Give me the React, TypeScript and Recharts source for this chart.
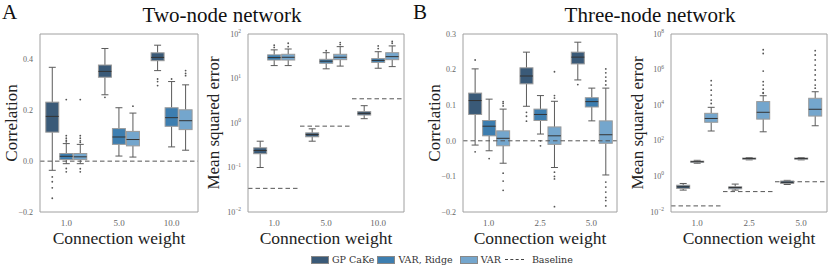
import React from 'react';
import { ComposedChart, Bar, XAxis, YAxis, ReferenceLine, ReferenceArea } from 'recharts';

const GP = '#3a5a78';
const RIDGE = '#3d7eb0';
const VARC = '#74a6cd';
const FRAME = '#a0a0a0';
const SERIF = '"Liberation Serif", "DejaVu Serif", serif';

const twoWeights = ['1.0', '5.0', '10.0'];
const threeWeights = ['1.0', '2.5', '5.0'];

// boxes are [whisker low, q1, median, q3, whisker high]
const corrTwoGp = [[-0.036, 0.114, 0.176, 0.232, 0.369], [0.261, 0.33, 0.353, 0.378, 0.443], [0.356, 0.395, 0.408, 0.426, 0.456]];
const corrTwoGpOut = [[-0.062, -0.081, -0.105, -0.146], [0.251], [0.323, 0.313, 0.297]];
const corrTwoRidge = [[-0.01, 0.006, 0.019, 0.03, 0.069], [0.02, 0.066, 0.095, 0.128, 0.21], [0.056, 0.137, 0.171, 0.21, 0.313]];
const corrTwoRidgeOut = [[0.076, 0.082, 0.09, 0.1, 0.242, -0.029, -0.042], [], [0.323]];
const corrTwoVar = [[-0.01, 0.006, 0.017, 0.03, 0.066], [0.016, 0.06, 0.085, 0.117, 0.189], [0.043, 0.124, 0.159, 0.202, 0.3]];
const corrTwoVarOut = [[0.074, 0.08, 0.09, 0.1, 0.242, -0.03, -0.042], [0.216], [0.336, 0.345, 0.356]];

const mseTwoGp = [[0.1, 0.204, 0.241, 0.277, 0.39], [0.39, 0.49, 0.55, 0.6, 0.74], [1.25, 1.51, 1.65, 1.8, 2.45]];
const mseTwoGpOut = [[], [], []];
const mseTwoRidge = [[19.5, 26, 29.5, 34, 44], [16.5, 22, 24.5, 27, 38], [17, 23, 25.5, 28, 40]];
const mseTwoRidgeOut = [[50, 56], [42], [47, 54]];
const mseTwoVar = [[19.5, 26, 30, 35, 46], [19, 26.5, 30, 35, 52], [18.5, 26.5, 31, 38, 54]];
const mseTwoVarOut = [[52, 62], [58, 64], [62, 68]];
const mseTwoBaseline = [0.034, 0.85, 3.5];

const corrThreeGp = [[-0.012, 0.074, 0.113, 0.134, 0.202], [0.097, 0.16, 0.182, 0.205, 0.249], [0.171, 0.216, 0.235, 0.249, 0.277]];
const corrThreeGpOut = [[0.227, -0.031], [0.08, 0.069, 0.055], [0.158]];
const corrThreeRidge = [[-0.028, 0.014, 0.041, 0.057, 0.117], [0.019, 0.057, 0.074, 0.089, 0.127], [0.056, 0.095, 0.11, 0.121, 0.148]];
const corrThreeRidgeOut = [[-0.05], [0.0, -0.014], []];
const corrThreeVar = [[-0.063, -0.014, 0.007, 0.028, 0.089], [-0.075, -0.01, 0.014, 0.039, 0.111], [-0.096, -0.007, 0.017, 0.056, 0.148]];
const corrThreeVarOut = [
  [0.098, 0.105, 0.11, -0.091, -0.113, -0.139],
  [0.12, 0.127, 0.194, -0.088, -0.1, -0.107, -0.185],
  [0.157, 0.168, 0.179, 0.191, 0.202, -0.116, -0.13, -0.144, -0.159, -0.168, -0.183],
];

const mseThreeGp = [[0.17, 0.21, 0.26, 0.32, 0.4], [0.17, 0.2, 0.24, 0.26, 0.37], [0.35, 0.4, 0.47, 0.55, 0.6]];
const mseThreeGpOut = [[], [], []];
const mseThreeRidge = [[5.5, 6.2, 6.7, 7.2, 8], [8.5, 9.3, 10, 10.8, 11.5], [8.5, 9.3, 10, 10.8, 11.5]];
const mseThreeRidgeOut = [[], [], []];
const mseThreeVar = [[355, 1100, 1800, 3500, 7600], [320, 1650, 4000, 16000, 34000], [700, 2450, 5900, 24500, 57000]];
const mseThreeVarOut = [
  [12500, 19500, 37000, 70000, 135000, 240000],
  [47000, 50000, 80000, 135000, 210000, 830000, 8e6, 1.3e7],
  [90000, 135000, 260000, 500000, 950000, 1.8e6, 3.5e6, 6.6e6, 1.15e7],
];
const mseThreeBaseline = [0.022, 0.14, 0.5];

const corrTwoTicks = [-0.2, 0, 0.2, 0.4];
const corrThreeTicks = [-0.2, -0.1, 0, 0.1, 0.2, 0.3];
const mseTwoTicks = [0.01, 0.1, 1, 10, 100];
const mseThreeTicks = [0.01, 1, 100, 10000, 1e6, 1e8];

const stat = (box: number[], out: number[]) => ({
  box,
  out,
  min: Math.min(box[0], ...out),
  max: Math.max(box[4], ...out),
});

const buildRows = (cats: string[], gp, gpOut, ridge, ridgeOut, vr, vrOut) =>
  cats.map((cat, i) => ({
    cat,
    gp: stat(gp[i], gpOut[i]),
    ridge: stat(ridge[i], ridgeOut[i]),
    var: stat(vr[i], vrOut[i]),
  }));

const corrTwoRows = buildRows(twoWeights, corrTwoGp, corrTwoGpOut, corrTwoRidge, corrTwoRidgeOut, corrTwoVar, corrTwoVarOut);
const mseTwoRows = buildRows(twoWeights, mseTwoGp, mseTwoGpOut, mseTwoRidge, mseTwoRidgeOut, mseTwoVar, mseTwoVarOut);
const corrThreeRows = buildRows(threeWeights, corrThreeGp, corrThreeGpOut, corrThreeRidge, corrThreeRidgeOut, corrThreeVar, corrThreeVarOut);
const mseThreeRows = buildRows(threeWeights, mseThreeGp, mseThreeGpOut, mseThreeRidge, mseThreeRidgeOut, mseThreeVar, mseThreeVarOut);

// the bar spans min..max of the box, the rest is placed along that span
function BoxShape(props: any) {
  const { x, y, width, height, s, log, color } = props;
  if (!s || height == null || isNaN(y)) return null;
  const f = (v: number) => (log ? Math.log10(v) : v);
  const top = Math.min(y, y + height);
  const h = Math.abs(height);
  const span = f(s.max) - f(s.min);
  const py = (v: number) => top + (h * (f(s.max) - f(v))) / span;
  const [lo, q1, md, q3, hi] = s.box;
  const cx = x + width / 2;
  const cap = width * 0.25;
  return (
    <g>
      <line x1={cx} x2={cx} y1={py(hi)} y2={py(q3)} stroke="#5a5a5a" strokeWidth={1} />
      <line x1={cx} x2={cx} y1={py(q1)} y2={py(lo)} stroke="#5a5a5a" strokeWidth={1} />
      <line x1={cx - cap} x2={cx + cap} y1={py(hi)} y2={py(hi)} stroke="#5a5a5a" strokeWidth={1} />
      <line x1={cx - cap} x2={cx + cap} y1={py(lo)} y2={py(lo)} stroke="#5a5a5a" strokeWidth={1} />
      <rect x={x + 0.5} y={py(q3)} width={width - 1} height={Math.max(py(q1) - py(q3), 1)} fill={color} stroke="#9a9a9a" strokeWidth={1} />
      <line x1={x + 0.5} x2={x + width - 0.5} y1={py(md)} y2={py(md)} stroke="#333" strokeWidth={1} />
      {s.out.map((v: number, i: number) => (
        <circle key={i} cx={cx} cy={py(v)} r={0.9} fill="#555" />
      ))}
    </g>
  );
}

// dashed baseline across the whole category band
function BaseSeg(props: any) {
  const { x, y, width, height } = props;
  if (x == null || isNaN(y)) return null;
  const yy = y + (height || 0) / 2;
  return <line x1={x} x2={x + width} y1={yy} y2={yy} stroke="#555" strokeWidth={1} strokeDasharray="4.5 3" />;
}

function LogTick(props: any) {
  const { x, y, payload } = props;
  const e = Math.round(Math.log10(payload.value));
  return (
    <text x={x} y={y} textAnchor="end" dominantBaseline="central" fontSize={8} fill="#666" fontFamily={SERIF}>
      10
      <tspan dy={-3} fontSize={5.5}>{e < 0 ? '−' + -e : String(e)}</tspan>
    </text>
  );
}

function YTitle(props: any) {
  const { viewBox, value, tx } = props;
  const cy = viewBox.y + viewBox.height / 2;
  return (
    <text x={tx} y={cy} transform={`rotate(-90 ${tx} ${cy})`} textAnchor="middle" dominantBaseline="central" fontSize={17} fontFamily={SERIF} fill="#222">
      {value}
    </text>
  );
}

function XTitle(props: any) {
  const { viewBox } = props;
  return (
    <text x={viewBox.x + viewBox.width / 2} y={238} textAnchor="middle" dominantBaseline="central" fontSize={17.5} fontFamily={SERIF} fill="#222">
      Connection weight
    </text>
  );
}

const fmtLin = (v: number) => (v < 0 ? '−' + Math.abs(v).toFixed(1) : v.toFixed(1));

function Panel(props: any) {
  const { left, right, axisW, rows, log, domain, ticks, yTitle, tx, baseline } = props;
  const series = [
    { key: 'gp', color: GP },
    { key: 'ridge', color: RIDGE },
    { key: 'var', color: VARC },
  ];
  return (
    <div style={{ position: 'absolute', left, top: 0 }}>
      <ComposedChart
        width={right - left + 1}
        height={267}
        data={rows}
        margin={{ top: 34, right: 1, bottom: 0, left: 0 }}
        barCategoryGap="10%"
        barGap={0}
      >
        <XAxis
          dataKey="cat"
          height={55}
          tickLine={false}
          axisLine={{ stroke: FRAME }}
          tick={{ fontSize: 9, fill: '#666', fontFamily: SERIF }}
          tickMargin={2}
          label={<XTitle />}
        />
        <XAxis xAxisId="top" dataKey="cat" orientation="top" mirror tick={false} tickLine={false} axisLine={{ stroke: FRAME }} />
        <YAxis
          width={axisW}
          scale={log ? 'log' : 'linear'}
          domain={domain}
          ticks={ticks}
          allowDataOverflow
          interval={0}
          tickLine={false}
          tickSize={4}
          tickMargin={3}
          axisLine={{ stroke: FRAME }}
          tick={log ? <LogTick /> : { fontSize: 8, fill: '#666', fontFamily: SERIF }}
          tickFormatter={log ? undefined : fmtLin}
          label={<YTitle value={yTitle} tx={tx} />}
        />
        <YAxis yAxisId="r" orientation="right" domain={[0, 1]} mirror tick={false} tickLine={false} axisLine={{ stroke: FRAME }} />
        {series.map((sr) => (
          <Bar
            key={sr.key}
            dataKey={(d: any) => [d[sr.key].min, d[sr.key].max]}
            fill={sr.color}
            isAnimationActive={false}
            shape={(p: any) => <BoxShape {...p} s={p.payload[sr.key]} log={log} color={sr.color} />}
          />
        ))}
        {baseline
          ? baseline.map((b: number, i: number) => (
              <ReferenceArea
                key={i}
                x1={rows[i].cat}
                x2={rows[i].cat}
                y1={b}
                y2={b}
                ifOverflow="visible"
                shape={<BaseSeg />}
              />
            ))
          : <ReferenceLine y={0} stroke="#555" strokeDasharray="4.5 3" />}
      </ComposedChart>
    </div>
  );
}

function LegendItem({ color, label, dashed, gap }: any) {
  return (
    <div style={{ display: 'flex', alignItems: 'center', marginRight: gap }}>
      {dashed ? (
        <div style={{ width: 19, height: 0, borderTop: '1px dashed #444', marginRight: 8 }} />
      ) : (
        <div style={{ width: 16, height: 6, background: color, border: '1px solid #888', marginRight: 3 }} />
      )}
      <span>{label}</span>
    </div>
  );
}

export default function App() {
  return (
    <div style={{ position: 'absolute', left: 0, top: 0, width: 830, height: 267, background: '#fff', fontFamily: SERIF, color: '#111' }}>
      <div style={{ position: 'absolute', left: 2, top: 0, fontSize: 21, lineHeight: '24px' }}>A</div>
      <div style={{ position: 'absolute', left: 0, width: 444, top: 3, fontSize: 21, lineHeight: '24px', textAlign: 'center' }}>Two-node network</div>
      <div style={{ position: 'absolute', left: 413, top: 0, fontSize: 21, lineHeight: '24px' }}>B</div>
      <div style={{ position: 'absolute', left: 410, width: 480, top: 3, fontSize: 21, lineHeight: '24px', textAlign: 'center' }}>Three-node network</div>

      <Panel left={0} right={198} axisW={40} rows={corrTwoRows} domain={[-0.2, 0.5]} ticks={corrTwoTicks} yTitle="Correlation" tx={11} />
      <Panel left={200} right={404} axisW={48} rows={mseTwoRows} log domain={[0.01, 100]} ticks={mseTwoTicks} yTitle="Mean squared error" tx={13} baseline={mseTwoBaseline} />
      <Panel left={410} right={617} axisW={53} rows={corrThreeRows} domain={[-0.2, 0.3]} ticks={corrThreeTicks} yTitle="Correlation" tx={24} />
      <Panel left={620} right={827} axisW={51} rows={mseThreeRows} log domain={[0.01, 1e8]} ticks={mseThreeTicks} yTitle="Mean squared error" tx={17} baseline={mseThreeBaseline} />

      <div
        style={{
          position: 'absolute',
          left: 311,
          top: 253,
          display: 'flex',
          fontSize: 9.5,
          lineHeight: '13px',
          color: '#333',
          fontFamily: '"DejaVu Serif", serif',
        }}
      >
        <LegendItem color={GP} label="GP CaKe" gap={3} />
        <LegendItem color={RIDGE} label="VAR, Ridge" gap={7} />
        <LegendItem color={VARC} label="VAR" gap={4} />
        <LegendItem dashed label="Baseline" gap={0} />
      </div>
    </div>
  );
}
